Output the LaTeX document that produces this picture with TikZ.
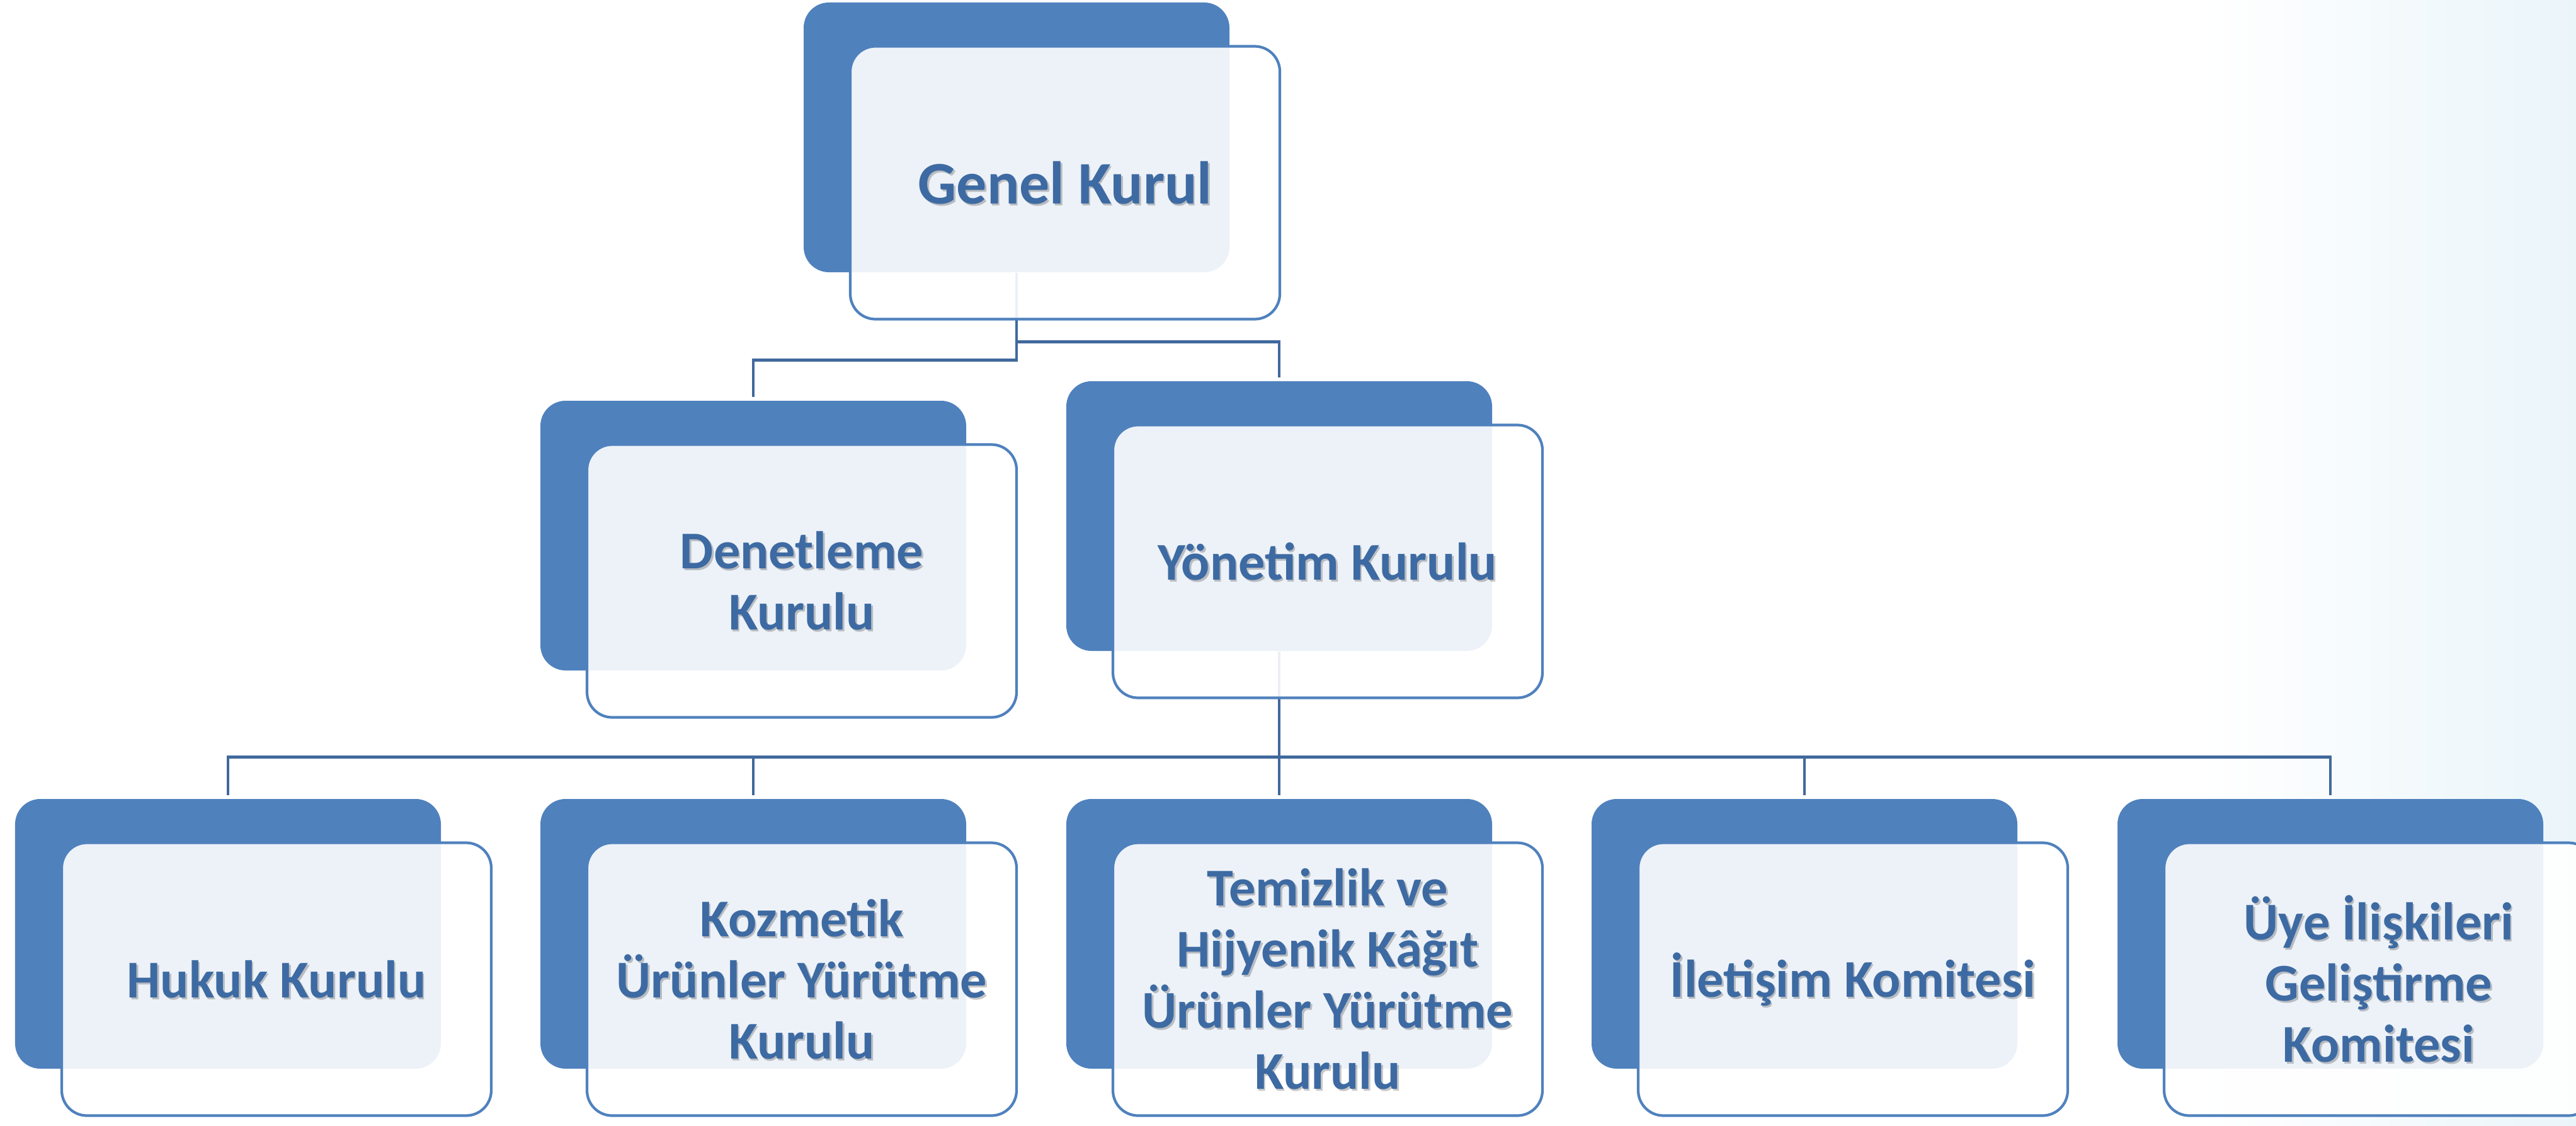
\documentclass[tikz,border=0pt]{standalone}
\usepackage{fontspec}
\setmainfont{Carlito}
\usetikzlibrary{positioning}
\definecolor{boxblue}{HTML}{4F81BD}
\definecolor{linkblue}{HTML}{41699C}
\definecolor{textblue}{HTML}{3D6AA2}
\definecolor{paleteal}{HTML}{EAF5FA}
\pgfdeclarelayer{back}
\pgfsetlayers{back,main}

\begin{document}
\begin{tikzpicture}[
  darkbox/.style={draw=none, fill=boxblue, rounded corners=0.4cm,
    minimum width=6.76cm, minimum height=4.28cm, inner sep=0pt},
  lightbox/.style={draw=boxblue, line width=1.2pt, fill=white, fill opacity=0.9,
    rounded corners=0.4cm, minimum width=6.82cm, minimum height=4.33cm, inner sep=0pt},
  title/.style={text=textblue, align=center, inner sep=0pt,
    font=\bfseries\fontsize{24}{27.6}\selectfont},
  shadow/.style={title, text=black, text opacity=0.22},
  link/.style={draw=linkblue, line width=1.3pt, shorten >=1.5pt}
]
\useasboundingbox (0,0) rectangle (40.9,-17.87);

\begin{pgfonlayer}{back}
\shade[left color=white, right color=paleteal] (35,0) rectangle (40.9,-17.87);
% blue back boxes
\node[darkbox] (gk) at (16.14,-2.18) {};
\node[darkbox] (dk) at (11.96,-8.50) {};
\node[darkbox] (yk) at (20.31,-8.19) {};
\foreach \n/\x in {hk/3.62, kz/11.96, tz/20.31, ik/28.65, uy/37.00}
  \node[darkbox] (\n) at (\x,-14.82) {};
% links
\draw[link] (gk.south) -- ++(0,-1.10) -| (yk.north);
\draw[link] (gk.south) -- ++(0,-1.39) -| (dk.north);
\foreach \n in {hk,kz,tz,ik,uy}
  \draw[link] (yk.south) -- ++(0,-1.68) -| (\n.north);
\end{pgfonlayer}

% front boxes with the names
\node[lightbox] (gk-l) at ([shift={(0.77,-0.72)}]gk.center) {};
\node[shadow, font=\bfseries\fontsize{27.3}{32}\selectfont] at ([shift={(0.025,-0.03)}]gk-l.center) {Genel Kurul};
\node[title, font=\bfseries\fontsize{27.3}{32}\selectfont] at (gk-l.center) {Genel Kurul};

\foreach \n/\t in {dk/{Denetleme\\Kurulu}, yk/{Yönetim Kurulu}, hk/{Hukuk Kurulu},
    kz/{Kozmetik\\Ürünler Yürütme\\Kurulu}, tz/{Temizlik ve\\Hijyenik Kâğıt\\Ürünler Yürütme\\Kurulu},
    ik/{İletişim Komitesi}, uy/{Üye İlişkileri\\Geliştirme\\Komitesi}}
{
  \node[lightbox] (\n-l) at ([shift={(0.77,-0.72)}]\n.center) {};
  \node[shadow] at ([shift={(0.025,-0.03)}]\n-l.center) {\t};
  \node[title] at (\n-l.center) {\t};
}
\end{tikzpicture}
\end{document}
